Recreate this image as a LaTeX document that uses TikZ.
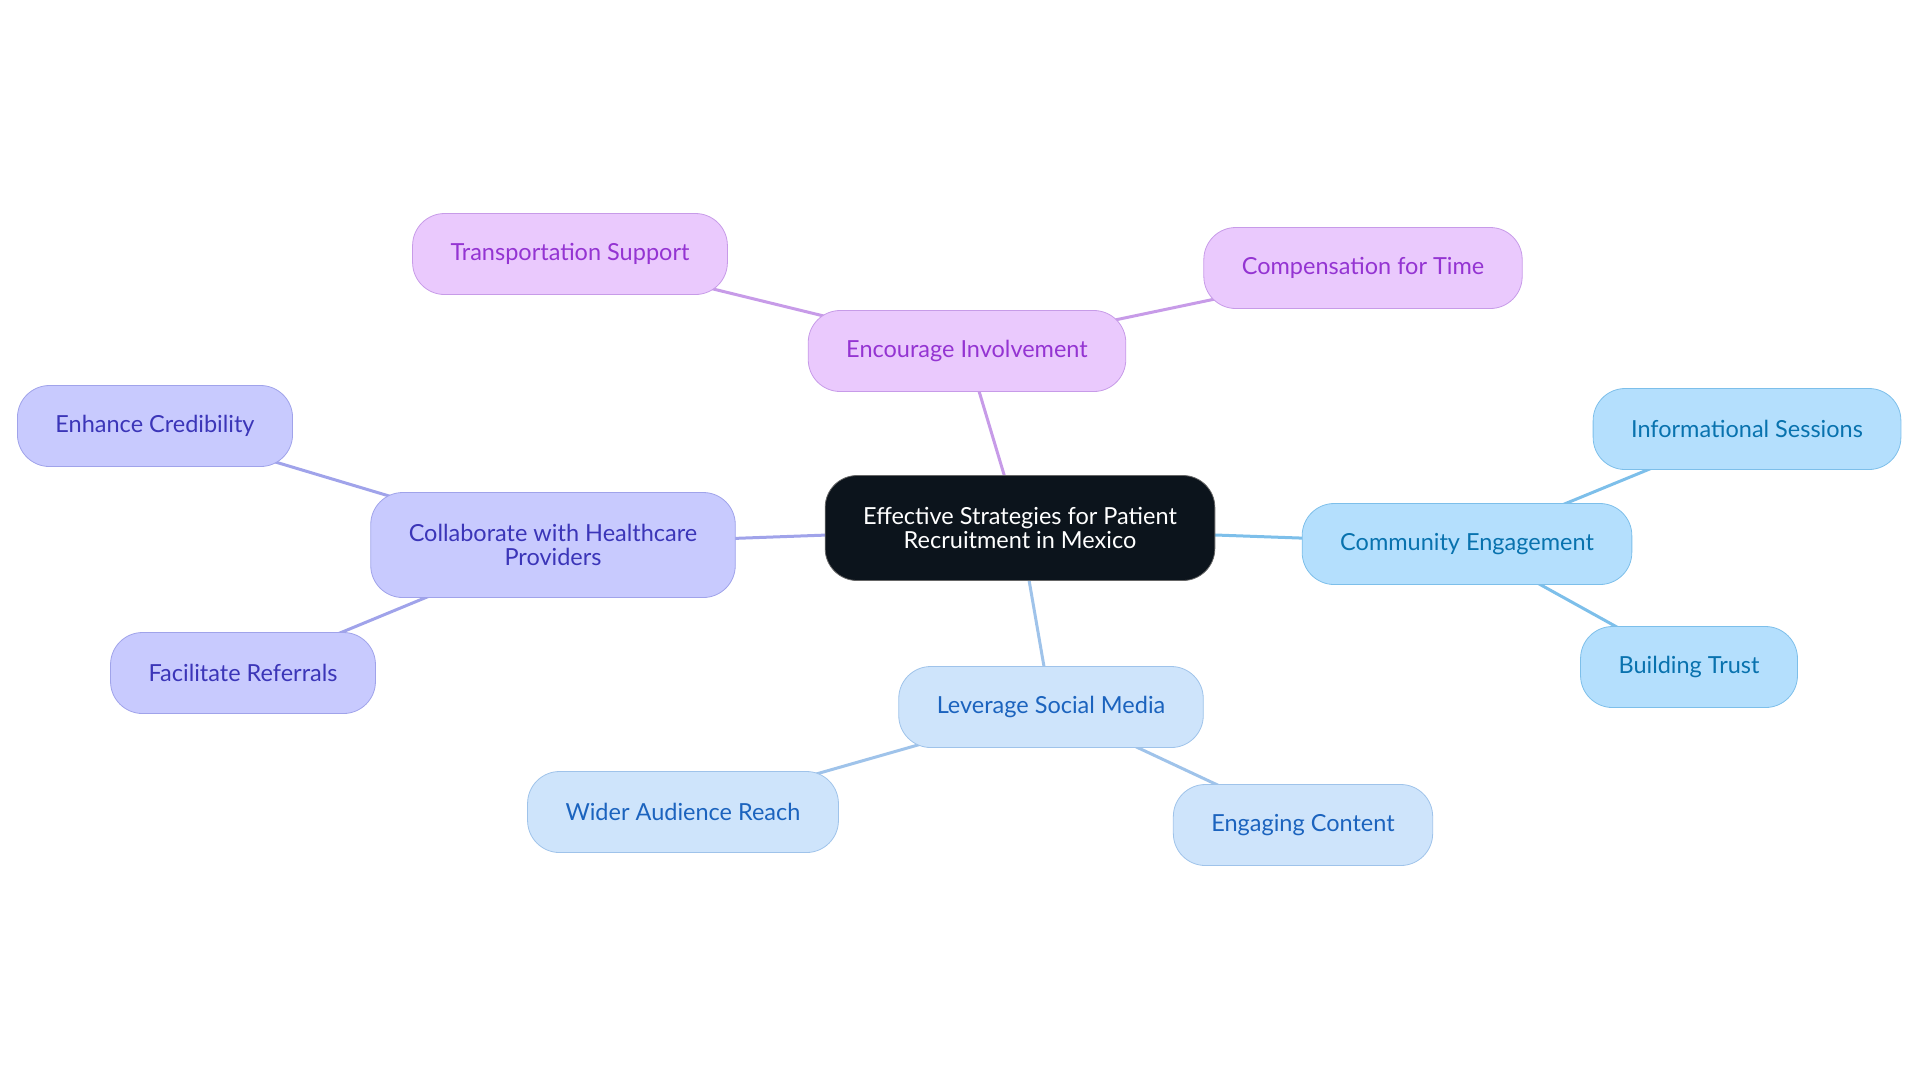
\documentclass[tikz,border=0pt]{standalone}
\usepackage{fontspec}
\setmainfont{Lato}
\usetikzlibrary{backgrounds}

\definecolor{rootfill}{HTML}{0C141C}
\definecolor{purfill}{HTML}{EAC9FD}
\definecolor{purline}{HTML}{C79BE8}
\definecolor{purtext}{HTML}{9434D2}
\definecolor{lavfill}{HTML}{C8CAFE}
\definecolor{lavline}{HTML}{A0A3EA}
\definecolor{lavtext}{HTML}{3B35B8}
\definecolor{skyfill}{HTML}{B4DFFD}
\definecolor{skyline}{HTML}{7DBFEA}
\definecolor{skytext}{HTML}{0872AE}
\definecolor{palefill}{HTML}{CEE4FB}
\definecolor{paleline}{HTML}{9FC3EA}
\definecolor{paletext}{HTML}{1B63BE}

\begin{document}
\begin{tikzpicture}[x=0.5pt, y=-0.5pt,
    every node/.style = {rounded corners=16pt, inner xsep=19pt,
      minimum height=40.5pt, align=center,
      font=\fontsize{11.75}{12}\selectfont},
    root/.style    = {fill=rootfill, draw=black!60, text=white,
      minimum height=52.5pt},
    purple/.style  = {fill=purfill, draw=purline, text=purtext},
    lavender/.style= {fill=lavfill, draw=lavline, text=lavtext},
    sky/.style     = {fill=skyfill, draw=skyline, text=skytext},
    pale/.style    = {fill=palefill, draw=paleline, text=paletext},
    link/.style    = {line width=1.5pt},
  ]
  \useasboundingbox (0,0) rectangle (1920,1083);

  \node[root] (root) at (1020,528)
    {Effective Strategies for Patient\\Recruitment in Mexico};

  \node[purple] (involve)  at (967,351)  {Encourage Involvement};
  \node[purple] (transport) at (570,254) {Transportation Support};
  \node[purple] (compens)  at (1363,268) {Compensation for Time};

  \node[lavender, minimum height=52.5pt] (collab) at (553,545)
    {Collaborate with Healthcare\\Providers};
  \node[lavender] (credib)   at (155,426) {Enhance Credibility};
  \node[lavender] (referral) at (243,673) {Facilitate Referrals};

  \node[sky] (community) at (1467,544) {Community Engagement};
  \node[sky] (sessions)  at (1747,429) {Informational Sessions};
  \node[sky] (trust)     at (1689,667) {Building Trust};

  \node[pale] (social)   at (1051,707) {Leverage Social Media};
  \node[pale] (audience) at (683,812)  {Wider Audience Reach};
  \node[pale] (content)  at (1303,825) {Engaging Content};

  \begin{pgfonlayer}{background}
    \draw[link, purline] (root.center) -- (involve.center)
      (involve.center) -- (transport.center)
      (involve.center) -- (compens.center);
    \draw[link, lavline] (root.center) -- (collab.center)
      (collab.center) -- (credib.center)
      (collab.center) -- (referral.center);
    \draw[link, skyline] (root.center) -- (community.center)
      (community.center) -- (sessions.center)
      (community.center) -- (trust.center);
    \draw[link, paleline] (root.center) -- (social.center)
      (social.center) -- (audience.center)
      (social.center) -- (content.center);
  \end{pgfonlayer}
\end{tikzpicture}
\end{document}
